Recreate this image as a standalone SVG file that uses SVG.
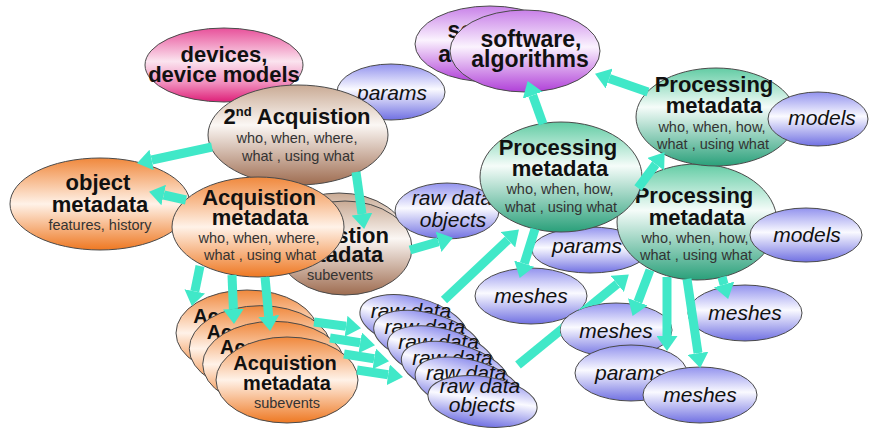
<svg xmlns="http://www.w3.org/2000/svg" width="870" height="433" viewBox="0 0 870 433">
<style>
.e{stroke:#4a4a4a;stroke-width:1}
.pink{fill:url(#gPink)}.purple{fill:url(#gPurple)}.blue{fill:url(#gBlue)}.green{fill:url(#gGreen)}.brown{fill:url(#gBrown)}.orange{fill:url(#gOrange)}
.t{font-family:"Liberation Sans",Arial,sans-serif;font-weight:bold;font-size:22px;fill:#111;text-anchor:middle}
.t20{font-size:20px}
.sw{font-size:23px}
.s{font-family:"Liberation Sans",Arial,sans-serif;font-size:14.5px;fill:#333;text-anchor:middle}
.i{font-family:"Liberation Sans",Arial,sans-serif;font-style:italic;font-size:21px;fill:#111;text-anchor:middle}
.a{stroke:#40e8c8;stroke-width:9;fill:none;marker-end:url(#head)}
</style>
<defs>
<linearGradient id="gPink" x1="0" y1="0" x2="0" y2="1"><stop offset="0" stop-color="#e8509a"/><stop offset="0.45" stop-color="#fbe4ef"/><stop offset="0.75" stop-color="#f08cbc"/><stop offset="1" stop-color="#de1f78"/></linearGradient>
<linearGradient id="gPurple" x1="0" y1="0" x2="0" y2="1"><stop offset="0" stop-color="#c880e8"/><stop offset="0.45" stop-color="#fbf3fe"/><stop offset="1" stop-color="#b040d8"/></linearGradient>
<linearGradient id="gBlue" x1="0" y1="0" x2="0" y2="1"><stop offset="0" stop-color="#9292ee"/><stop offset="0.45" stop-color="#fafaff"/><stop offset="1" stop-color="#7070e2"/></linearGradient>
<linearGradient id="gGreen" x1="0" y1="0" x2="0" y2="1"><stop offset="0" stop-color="#62cca4"/><stop offset="0.4" stop-color="#f5fcf9"/><stop offset="1" stop-color="#2aa07a"/></linearGradient>
<linearGradient id="gBrown" x1="0" y1="0" x2="0" y2="1"><stop offset="0" stop-color="#c9aa94"/><stop offset="0.4" stop-color="#fbf7f4"/><stop offset="1" stop-color="#9e6c50"/></linearGradient>
<linearGradient id="gOrange" x1="0" y1="0" x2="0" y2="1"><stop offset="0" stop-color="#f0883c"/><stop offset="0.5" stop-color="#fff2e8"/><stop offset="1" stop-color="#ee7822"/></linearGradient>
<marker id="head" markerUnits="userSpaceOnUse" markerWidth="15" markerHeight="21" refX="0" refY="10.5" orient="auto"><path d="M0,0 L15,10.5 L0,21 z" fill="#40e8c8"/></marker>
<mask id="mUnderMeshes2" maskUnits="userSpaceOnUse" x="0" y="0" width="870" height="433"><rect width="870" height="433" fill="#fff"/><ellipse cx="616" cy="330" rx="56" ry="27" fill="#000"/></mask>
</defs>
<rect width="870" height="433" fill="#fff"/>

<g id="n-devices"><ellipse class="e pink" cx="224" cy="65" rx="79" ry="37"/><text class="t" x="224" y="62">devices,</text><text class="t" x="224" y="82">device models</text></g>
<g id="n-params-top"><ellipse class="e blue" cx="391" cy="92" rx="54" ry="28"/><text class="i" x="392" y="100">params</text></g>
<g id="n-acq2"><ellipse class="e brown" cx="298" cy="135" rx="90" ry="50"/><text class="t" x="297" y="124">2<tspan font-size="13" dy="-8">nd</tspan><tspan dy="8"> Acquistion</tspan></text><text class="s" x="297" y="143">who, when, where,</text><text class="s" x="298" y="161">what , using what</text></g>
<g id="n-software-back"><ellipse class="e purple" cx="490" cy="44" rx="75" ry="38"/><text class="t sw" x="498" y="38">software,</text><text class="t sw" x="497" y="62">algorithms</text></g>
<g id="n-software"><ellipse class="e purple" cx="525" cy="51" rx="75" ry="41"/><text class="t sw" x="531" y="47">software,</text><text class="t sw" x="530" y="67">algorithms</text></g>
<g id="n-object"><ellipse class="e orange" cx="100" cy="204" rx="90" ry="46"/><text class="t" x="98" y="190">object</text><text class="t" x="100" y="212">metadata</text><text class="s" x="100" y="230">features, history</text></g>
<g id="n-sub-back"><ellipse class="e brown" cx="339" cy="240" rx="68" ry="47"/></g>
<g id="n-sub"><ellipse class="e brown" cx="345" cy="248" rx="67" ry="47"/><text class="t" x="332" y="243">Acquistion</text><text class="t" x="335" y="262">metadata</text><text class="s" x="340" y="280">subevents</text></g>
<g id="n-acq"><ellipse class="e orange" cx="258" cy="227" rx="86" ry="50"/><text class="t" x="259" y="205">Acquistion</text><text class="t" x="260" y="225">metadata</text><text class="s" x="259" y="243">who, when, where,</text><text class="s" x="260" y="260">what , using what</text></g>

<g id="n-stack1"><ellipse class="e orange" cx="247" cy="333" rx="71" ry="43"/><text class="t t20" x="245" y="323">Acquistion</text></g>
<g id="n-stack2"><ellipse class="e orange" cx="260.3" cy="348.7" rx="71" ry="43"/><text class="t t20" x="258.3" y="338.7">Acquistion</text></g>
<g id="n-stack3"><ellipse class="e orange" cx="273.7" cy="364.3" rx="71" ry="43"/><text class="t t20" x="271.7" y="354.3">Acquistion</text></g>
<g id="n-stack4"><ellipse class="e orange" cx="287" cy="380" rx="71" ry="43"/><text class="t t20" x="285" y="370">Acquistion</text><text class="t t20" x="287" y="390">metadata</text><text class="s" x="287" y="408">subevents</text></g>

<g id="n-raw1"><ellipse class="e blue" cx="413.5" cy="323.5" rx="55" ry="26" transform="rotate(15 413.5 323.5)"/><text class="i" x="411" y="318">raw data</text></g>
<g id="n-raw2"><ellipse class="e blue" cx="427.3" cy="339.1" rx="55" ry="26" transform="rotate(15 427.3 339.1)"/><text class="i" x="424.8" y="333.6">raw data</text></g>
<g id="n-raw3"><ellipse class="e blue" cx="441.1" cy="354.7" rx="55" ry="26" transform="rotate(15 441.1 354.7)"/><text class="i" x="438.6" y="349.2">raw data</text></g>
<g id="n-raw4"><ellipse class="e blue" cx="454.9" cy="370.3" rx="55" ry="26" transform="rotate(15 454.9 370.3)"/><text class="i" x="452.4" y="364.8">raw data</text></g>
<g id="n-raw5"><ellipse class="e blue" cx="468.7" cy="385.9" rx="55" ry="26" transform="rotate(15 468.7 385.9)"/><text class="i" x="466.2" y="380.4">raw data</text></g>
<g id="n-raw6"><ellipse class="e blue" cx="482.5" cy="401.5" rx="55" ry="25" transform="rotate(8 482.5 401.5)"/><text class="i" x="480" y="393">raw data</text><text class="i" x="482" y="412">objects</text></g>

<g id="n-raw-mid"><ellipse class="e blue" cx="447" cy="211" rx="52" ry="28"/><text class="i" x="452" y="205">raw data</text><text class="i" x="453" y="227">objects</text></g>
<g id="n-params-mid"><ellipse class="e blue" cx="590" cy="250" rx="58" ry="23"/><text class="i" x="587" y="253">params</text></g>
<g id="n-proc-low"><ellipse class="e green" cx="697" cy="222" rx="80" ry="58"/><text class="t" x="694" y="203">Processing</text><text class="t" x="697" y="225">metadata</text><text class="s" x="695" y="243">who, when, how,</text><text class="s" x="696" y="260">what , using what</text></g>
<g id="n-models-low"><ellipse class="e blue" cx="806" cy="235" rx="56" ry="27"/><text class="i" x="807" y="242">models</text></g>
<g id="n-proc-mid"><ellipse class="e green" cx="561" cy="177" rx="81" ry="55"/><text class="t" x="558" y="155">Processing</text><text class="t" x="560" y="176">metadata</text><text class="s" x="560" y="194">who, when, how,</text><text class="s" x="561" y="212">what , using what</text></g>
<g id="n-proc-top"><ellipse class="e green" cx="716" cy="117" rx="80" ry="49"/><text class="t" x="714" y="92">Processing</text><text class="t" x="714" y="113">metadata</text><text class="s" x="712" y="132">who, when, how,</text><text class="s" x="713" y="149">what , using what</text></g>
<g id="n-models-top"><ellipse class="e blue" cx="818" cy="119" rx="50" ry="27"/><text class="i" x="822" y="125">models</text></g>

<g id="n-meshes1"><ellipse class="e blue" cx="531" cy="296" rx="56" ry="28"/><text class="i" x="531" y="303">meshes</text></g>
<g id="n-meshes-right"><ellipse class="e blue" cx="745" cy="313" rx="57" ry="28"/><text class="i" x="745" y="320">meshes</text></g>
<g id="n-meshes2"><ellipse class="e blue" cx="616" cy="330" rx="56" ry="27"/><text class="i" x="616" y="338">meshes</text></g>
<g id="n-params-low"><ellipse class="e blue" cx="631" cy="373" rx="56" ry="28"/><text class="i" x="630" y="380">params</text></g>
<g id="n-meshes-bottom"><ellipse class="e blue" cx="700" cy="395" rx="57" ry="28"/><text class="i" x="700" y="402">meshes</text></g>

<g id="connectors">
<line class="a" x1="212" y1="147" x2="151.7" y2="160"/>
<line class="a" x1="186" y1="200" x2="163.7" y2="195"/>
<line class="a" x1="356" y1="172" x2="362" y2="214.1"/>
<line class="a" x1="410" y1="250" x2="438.5" y2="241.8"/>
<line class="a" x1="200" y1="266" x2="194.8" y2="291.3"/>
<line class="a" x1="232" y1="275" x2="233.4" y2="309"/>
<line class="a" x1="265" y1="277" x2="268.7" y2="316.1"/>
<line class="a" x1="314" y1="322" x2="346.1" y2="326.2"/>
<line class="a" x1="330" y1="338" x2="360.2" y2="342.8"/>
<line class="a" x1="344" y1="354" x2="374.2" y2="358.8"/>
<line class="a" x1="357" y1="370" x2="388.2" y2="374.8"/>
<line class="a" x1="444" y1="300" x2="508" y2="239.8"/>
<line class="a" x1="518" y1="365" x2="617.2" y2="283.9" mask="url(#mUnderMeshes2)"/>
<line class="a" x1="543" y1="124" x2="532.7" y2="95.2"/>
<line class="a" x1="648" y1="92" x2="609.2" y2="78.6"/>
<line class="a" x1="638" y1="188" x2="655.7" y2="164.2"/>
<line class="a" x1="535" y1="229" x2="524.2" y2="263.6"/>
<line class="a" x1="650" y1="270" x2="637.9" y2="301.9"/>
<line class="a" x1="667" y1="277" x2="667" y2="336"/>
<line class="a" x1="687" y1="279" x2="698" y2="353.2"/>
<line class="a" x1="722" y1="277" x2="724.1" y2="284.5"/>
</g>
</svg>
